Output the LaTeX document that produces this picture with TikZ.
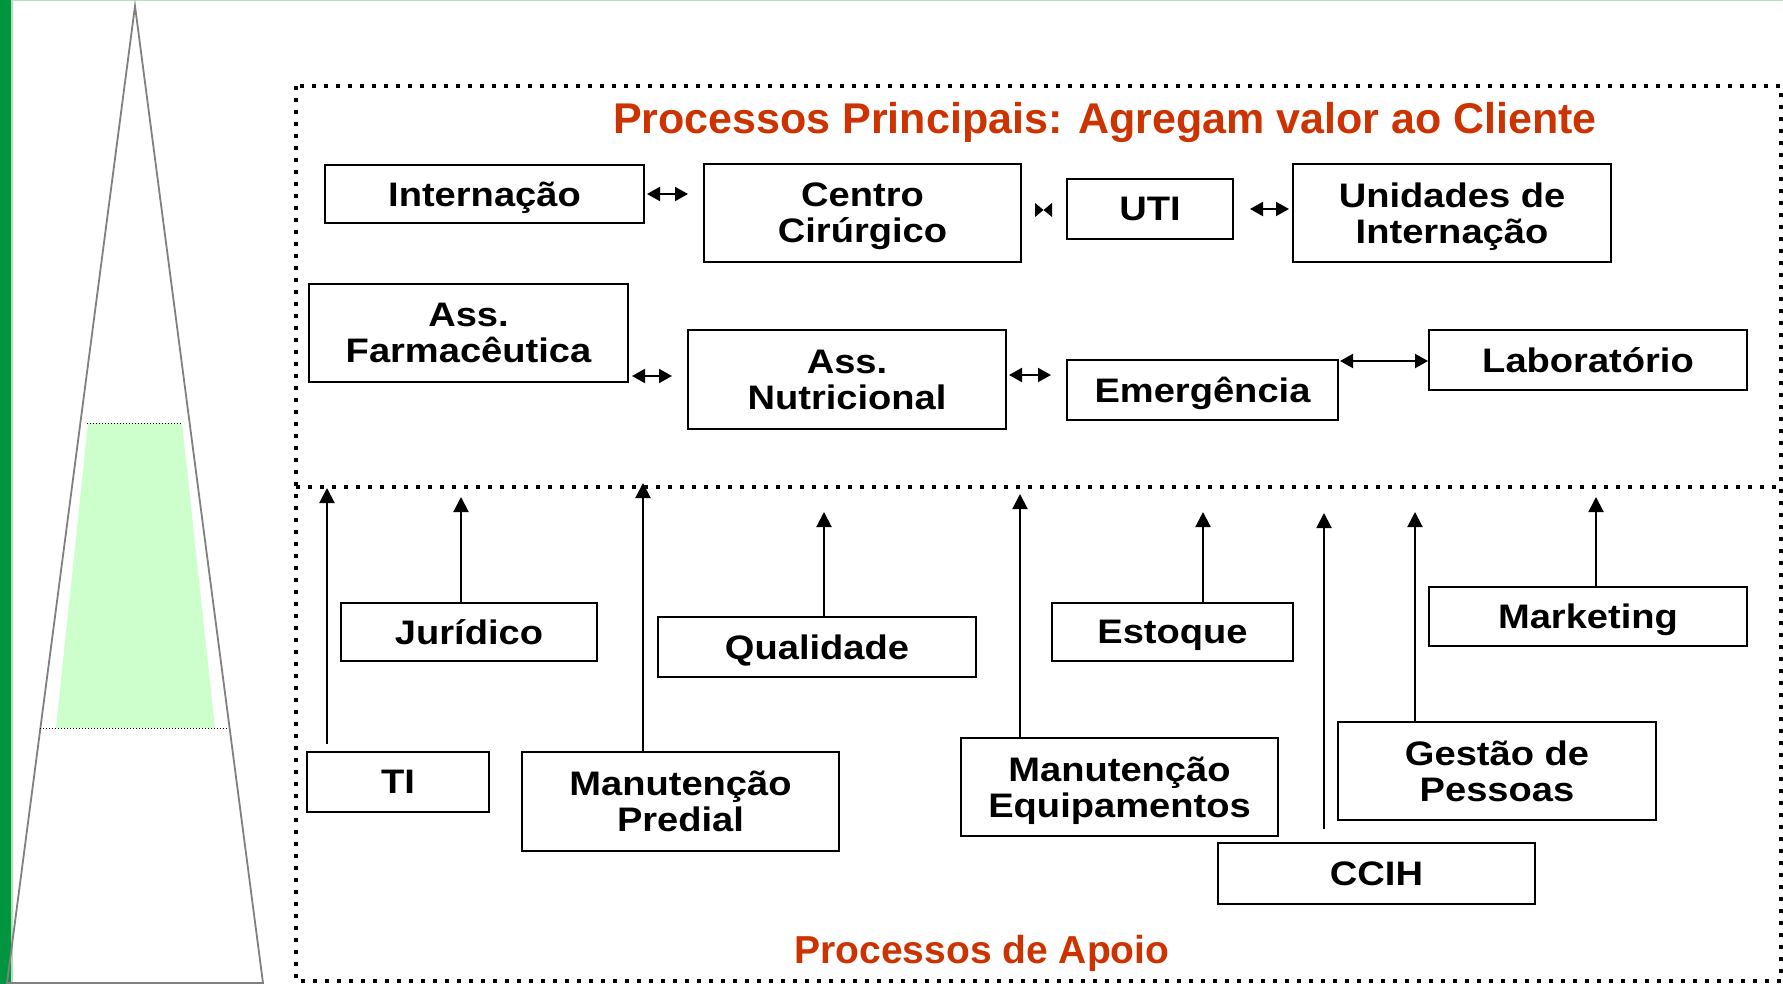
\documentclass[tikz,border=0pt]{standalone}
\usepackage{fontspec}
\setmainfont{Liberation Sans}
\newfontfamily\boxf{Liberation Sans}[FakeStretch=1.12]
\usetikzlibrary{arrows.meta,calc}
\definecolor{titlered}{RGB}{204,51,0}
\definecolor{stripgreen}{RGB}{0,150,64}
\definecolor{edgegreen}{RGB}{180,225,180}
\definecolor{trapgreen}{RGB}{204,255,204}
\definecolor{trigray}{RGB}{128,128,128}
\tikzset{
  bx/.style={draw=black, line width=1pt, fill=white, inner sep=0pt, align=center, text depth=0pt,
    font=\boxf\bfseries\fontsize{17}{18}\selectfont},
  ttl/.style={text=titlered, inner sep=0pt, font=\bfseries\fontsize{21.5}{24}\selectfont},
  frame/.style={line width=2pt, dash pattern=on 2pt off 4pt},
  up/.style={line width=1pt, -{Triangle[length=7.5pt,width=7.5pt]}},
  lr/.style={line width=1pt, {Triangle[length=6.5pt,width=7pt]}-{Triangle[length=6.5pt,width=7pt]}},
  thindot/.style={line width=0.5pt, dash pattern=on 0.5pt off 1pt}
}
\begin{document}
\begin{tikzpicture}[x=0.5pt,y=-0.5pt]
\useasboundingbox (0,0) rectangle (1783,984);
\fill[white] (0,0) rectangle (1783,984);
% borders
\fill[edgegreen] (0,0) rectangle (1783,1.5);
\fill[edgegreen] (10,0) rectangle (13,984);
\fill[stripgreen] (0,0) rectangle (10.5,984);
% pyramid
\fill[trapgreen] (88,423) -- (182,423) -- (215,728) -- (56,728) -- cycle;
\draw[trigray, line width=0.9pt] (135,6) -- (263,983) -- (7,983) -- cycle;
\draw[thindot] (87,423) -- (182,423);
\draw[thindot] (40,728) -- (229,728);
% dotted frame
\draw[frame] (296,86) rectangle (1781,981);
\draw[frame] (296,487) -- (1781,487);
% titles
\node[ttl, anchor=base] (tp) at (1105,134) {Processos Principais: Agregam valor ao Cliente};
\node[ttl, anchor=base, font=\bfseries\fontsize{19.5}{22}\selectfont] (ta) at (982,963) {Processos de Apoio};
% main process boxes
\node[bx, minimum width=159.5pt, minimum height=29pt] (intern) at (484.5,194) {Internação};
\node[bx, minimum width=158.5pt, minimum height=49pt] (centro) at (862.5,213) {Centro\\Cirúrgico};
\node[bx, minimum width=83pt, minimum height=30pt] (uti) at (1150,209) {UTI};
\node[bx, minimum width=159pt, minimum height=49pt] (unid) at (1452,213) {Unidades de\\Internação};
\node[bx, minimum width=159.5pt, minimum height=49pt] (farm) at (468.5,333) {Ass.\\Farmacêutica};
\node[bx, minimum width=159pt, minimum height=49.5pt] (nutri) at (847,379.5) {Ass.\\Nutricional};
\node[bx, minimum width=135.5pt, minimum height=30pt] (emerg) at (1202.5,390) {Emergência};
\node[bx, minimum width=159pt, minimum height=30pt] (lab) at (1588,360) {Laboratório};
% support boxes
\node[bx, minimum width=128pt, minimum height=29pt] (jurid) at (469,632) {Jurídico};
\node[bx, minimum width=159pt, minimum height=30pt] (qual) at (817,647) {Qualidade};
\node[bx, minimum width=120.5pt, minimum height=29pt] (estoq) at (1172.5,632) {Estoque};
\node[bx, minimum width=159pt, minimum height=29.5pt] (mark) at (1588,616.5) {Marketing};
\node[bx, minimum width=91pt, minimum height=30pt] (ti) at (398,782) {TI};
\node[bx, minimum width=158.5pt, minimum height=49.5pt] (predial) at (680.5,801.5) {Manutenção\\Predial};
\node[bx, minimum width=158.5pt, minimum height=49pt] (equip) at (1119.5,787) {Manutenção\\Equipamentos};
\node[bx, minimum width=159pt, minimum height=49pt] (gestao) at (1497,771) {Gestão de\\Pessoas};
\node[bx, minimum width=158.5pt, minimum height=30.5pt] (ccih) at (1376.5,873.5) {CCIH};
% horizontal connectors
\draw[lr] ($(intern.east)+(2,0)$) -- ($(intern.east -| centro.west)+(-15,0)$);
\coordinate (bowL) at ($(centro.east |- uti.west)+(13,1)$);
\coordinate (bowR) at ($(uti.west)+(-14,1)$);
\coordinate (bowM) at ($(bowL)!0.5!(bowR)$);
\fill (bowL) ++(0,-7) -- (bowM) -- ($(bowR)+(0,-7)$) -- ($(bowR)+(0,7)$) -- (bowM) -- ($(bowL)+(0,7)$) -- cycle;
\draw[lr] ($(uti.east)+(16,0)$) -- ($(uti.east -| unid.west)+(-3,0)$);
\draw[lr] ($(farm.south east)+(3,-7)$) -- ($(farm.south east -| nutri.west)+(-15,-7)$);
\draw[lr] ($(nutri.east)+(2,-4.5)$) -- ($(nutri.east -| emerg.west)+(-15,-4.5)$);
\draw[lr] ($(emerg.north east)+(1,2)$) -- ($(emerg.north east -| lab.west)+(0,2)$);
% tips of support arrows
\coordinate (tTI) at (327,488);
\coordinate (tJU) at (461,497);
\coordinate (tPR) at (643,483);
\coordinate (tQU) at (824,512);
\coordinate (tEQ) at (1020,494);
\coordinate (tES) at (1203,512);
\coordinate (tCC) at (1324,513);
\coordinate (tGE) at (1415,512);
\coordinate (tMA) at (1596,497);
% vertical connectors
\draw[up] ($(tTI |- ti.north)+(0,-7)$) -- (tTI);
\draw[up] (tJU |- jurid.north) -- (tJU);
\draw[up] (tPR |- predial.north) -- (tPR);
\draw[up] (tQU |- qual.north) -- (tQU);
\draw[up] (tEQ |- equip.north) -- (tEQ);
\draw[up] (tES |- estoq.north) -- (tES);
\draw[up] ($(tCC |- ccih.north)+(0,-13)$) -- (tCC);
\draw[up] (tGE |- gestao.north) -- (tGE);
\draw[up] (tMA |- mark.north) -- (tMA);
\end{tikzpicture}
\end{document}
